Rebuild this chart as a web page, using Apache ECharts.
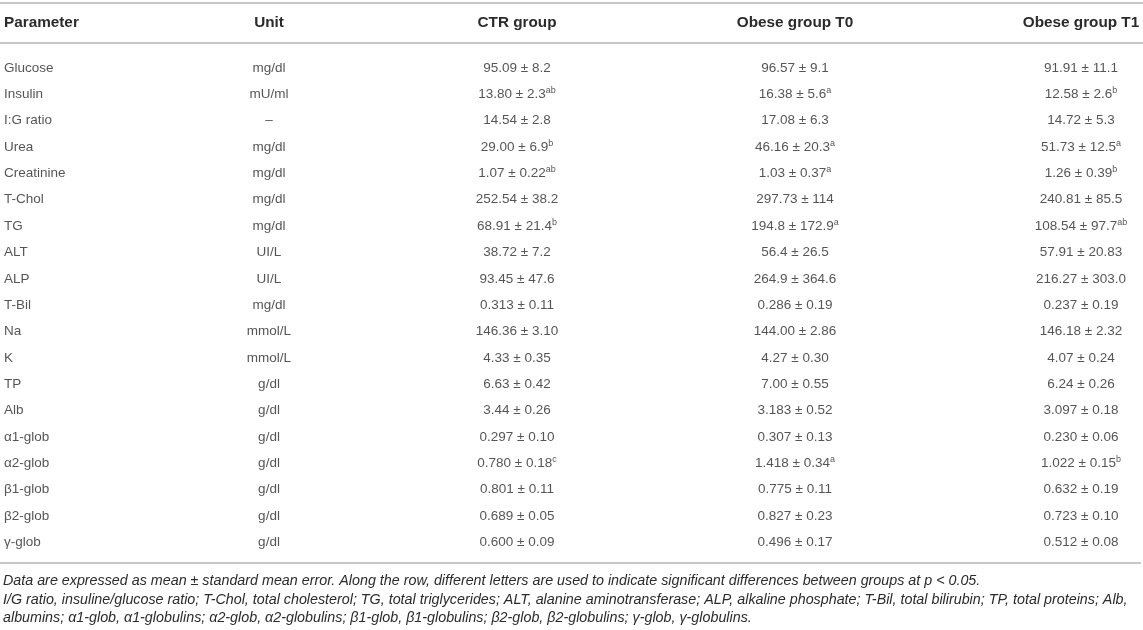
<!DOCTYPE html>
<html>
<head>
<meta charset="utf-8">
<script src="https://cdn.jsdelivr.net/npm/echarts@6/dist/echarts.min.js"></script>
<style>
  html, body { margin: 0; padding: 0; background: #ffffff; }
  #table_info { width: 1143px; height: 630px; }
</style>
</head>
<body>
<div id="table_info"></div>
<script>
// table content
var headers = ['Parameter', 'Unit', 'CTR group', 'Obese group T0', 'Obese group T1'];
var parameters = ['Glucose', 'Insulin', 'I:G ratio', 'Urea', 'Creatinine', 'T-Chol', 'TG', 'ALT', 'ALP', 'T-Bil',
  'Na', 'K', 'TP', 'Alb', 'α1-glob', 'α2-glob', 'β1-glob', 'β2-glob', 'γ-glob'];
var units = ['mg/dl', 'mU/ml', '–', 'mg/dl', 'mg/dl', 'mg/dl', 'mg/dl', 'UI/L', 'UI/L', 'mg/dl',
  'mmol/L', 'mmol/L', 'g/dl', 'g/dl', 'g/dl', 'g/dl', 'g/dl', 'g/dl', 'g/dl'];

var ctrMean = ['95.09', '13.80', '14.54', '29.00', '1.07', '252.54', '68.91', '38.72', '93.45', '0.313',
  '146.36', '4.33', '6.63', '3.44', '0.297', '0.780', '0.801', '0.689', '0.600'];
var ctrSem = ['8.2', '2.3', '2.8', '6.9', '0.22', '38.2', '21.4', '7.2', '47.6', '0.11',
  '3.10', '0.35', '0.42', '0.26', '0.10', '0.18', '0.11', '0.05', '0.09'];
var ctrSig = ['', 'ab', '', 'b', 'ab', '', 'b', '', '', '', '', '', '', '', '', 'c', '', '', ''];

var t0Mean = ['96.57', '16.38', '17.08', '46.16', '1.03', '297.73', '194.8', '56.4', '264.9', '0.286',
  '144.00', '4.27', '7.00', '3.183', '0.307', '1.418', '0.775', '0.827', '0.496'];
var t0Sem = ['9.1', '5.6', '6.3', '20.3', '0.37', '114', '172.9', '26.5', '364.6', '0.19',
  '2.86', '0.30', '0.55', '0.52', '0.13', '0.34', '0.11', '0.23', '0.17'];
var t0Sig = ['', 'a', '', 'a', 'a', '', 'a', '', '', '', '', '', '', '', '', 'a', '', '', ''];

var t1Mean = ['91.91', '12.58', '14.72', '51.73', '1.26', '240.81', '108.54', '57.91', '216.27', '0.237',
  '146.18', '4.07', '6.24', '3.097', '0.230', '1.022', '0.632', '0.723', '0.512'];
var t1Sem = ['11.1', '2.6', '5.3', '12.5', '0.39', '85.5', '97.7', '20.83', '303.0', '0.19',
  '2.32', '0.24', '0.26', '0.18', '0.06', '0.15', '0.19', '0.10', '0.08'];
var t1Sig = ['', 'b', '', 'a', 'b', '', 'ab', '', '', '', '', '', '', '', '', 'b', '', '', ''];

var footnotes = [
  'Data are expressed as mean ± standard mean error. Along the row, different letters are used to indicate significant differences between groups at p < 0.05.',
  'I/G ratio, insuline/glucose ratio; T-Chol, total cholesterol; TG, total triglycerides; ALT, alanine aminotransferase; ALP, alkaline phosphate; T-Bil, total bilirubin; TP, total proteins; Alb,',
  'albumins; α1-glob, α1-globulins; α2-glob, α2-globulins; β1-glob, β1-globulins; β2-glob, β2-globulins; γ-glob, γ-globulins.'
];

// layout
var colX = [4, 269, 517, 795, 1081];
var textColor = '#2b2b2b';
var ruleColor = '#c6c6c6';
var fontFamily = '"Liberation Sans", Arial, Helvetica, sans-serif';

var table_dom = document.getElementById('table_info');
var table_Chart = echarts.init(table_dom, null, { renderer: 'canvas' });

var cellRich = {
  v: { fontSize: 13.5, lineHeight: 16, color: textColor, fontFamily: fontFamily },
  s: { fontSize: 9, lineHeight: 9, verticalAlign: 'top', color: textColor, fontFamily: fontFamily }
};

function textSeries(x, texts, leftAlign) {
  return {
    type: 'scatter',
    symbolSize: 0,
    silent: true,
    data: texts.map(function (t, i) { return { value: [x, i], cell: t }; }),
    label: {
      show: true,
      position: leftAlign ? 'right' : 'inside',
      distance: 0,
      align: leftAlign ? 'left' : 'center',
      verticalAlign: 'middle',
      formatter: function (p) { return p.data.cell; },
      rich: cellRich
    }
  };
}

function valueTexts(mean, sem, sig) {
  return mean.map(function (m, i) {
    var s = '{v|' + m + ' ± ' + sem[i] + '}';
    if (sig[i]) s += '{s|' + sig[i] + '}';
    return s;
  });
}

var rowY = function (i) { return 68 + i * 26.35; };

var graphics = [
  { type: 'line', shape: { x1: 0, y1: 3, x2: 1143, y2: 3 }, style: { stroke: ruleColor, lineWidth: 2 } },
  { type: 'line', shape: { x1: 0, y1: 43, x2: 1143, y2: 43 }, style: { stroke: ruleColor, lineWidth: 2 } },
  { type: 'line', shape: { x1: 0, y1: 563, x2: 1141, y2: 563 }, style: { stroke: ruleColor, lineWidth: 2 } }
];
headers.forEach(function (h, i) {
  graphics.push({
    type: 'text', x: colX[i], y: 23,
    style: {
      text: h, fill: textColor, font: 'bold 15.3px ' + fontFamily,
      textAlign: i === 0 ? 'left' : 'center', textVerticalAlign: 'middle'
    }
  });
});
footnotes.forEach(function (f, i) {
  graphics.push({
    type: 'text', x: 3, y: 581 + i * 18.7,
    style: {
      text: f, fill: textColor, font: 'italic 14.3px ' + fontFamily,
      textAlign: 'left', textVerticalAlign: 'middle'
    }
  });
});

var table_option = {
  animation: false,
  grid: { left: 0, right: 0, top: rowY(0) - 13.175, height: 26.35 * parameters.length },
  xAxis: { type: 'value', min: 0, max: 1143, show: false },
  yAxis: {
    type: 'category', inverse: true, show: false, boundaryGap: true,
    data: parameters
  },
  series: [
    textSeries(colX[0], parameters.map(function (p) { return '{v|' + p + '}'; }), true),
    textSeries(colX[1], units.map(function (u) { return '{v|' + u + '}'; }), false),
    textSeries(colX[2], valueTexts(ctrMean, ctrSem, ctrSig), false),
    textSeries(colX[3], valueTexts(t0Mean, t0Sem, t0Sig), false),
    textSeries(colX[4], valueTexts(t1Mean, t1Sem, t1Sig), false)
  ],
  graphic: graphics
};

table_Chart.setOption(table_option);
window.addEventListener('resize', table_Chart.resize);
</script>
</body>
</html>
